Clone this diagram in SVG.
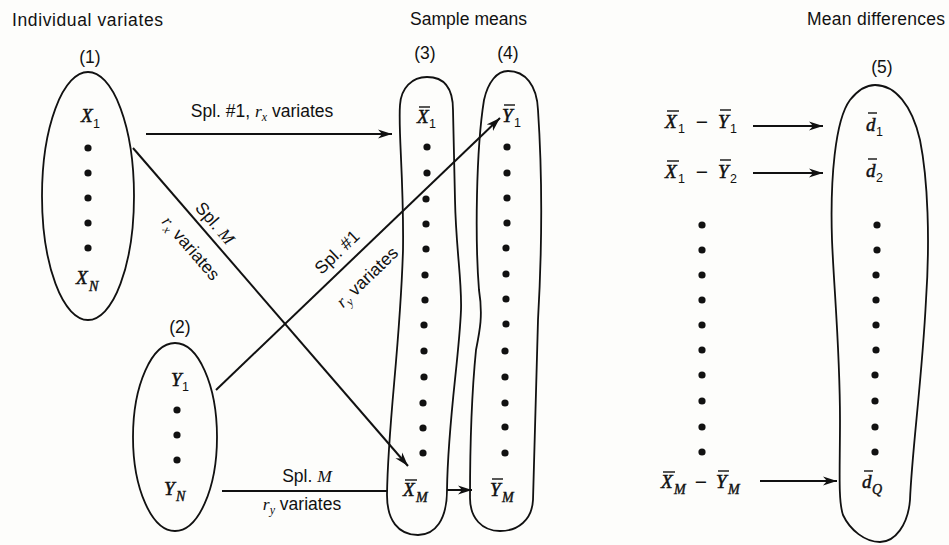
<svg xmlns="http://www.w3.org/2000/svg" width="949" height="545" viewBox="0 0 949 545">
<defs>
<style>
.h{font-family:"Liberation Sans",Arial,sans-serif;font-size:17.5px;fill:#111}
.mn{font-family:"Liberation Sans",Arial,sans-serif;font-size:21px;fill:#111}
.m{font-family:"Liberation Serif","Times New Roman",serif;font-style:italic;font-size:19px;fill:#111;stroke:#111;stroke-width:0.5}
.mi{font-family:"Liberation Serif","Times New Roman",serif;font-style:italic;font-size:14px;fill:#111;stroke:#111;stroke-width:0.4}
.s{font-family:"Liberation Sans",Arial,sans-serif;font-size:12.5px;fill:#111}
.it{font-family:"Liberation Serif","Times New Roman",serif;font-style:italic}
.bar{stroke:#111;stroke-width:1.4}
.ln{stroke:#111;stroke-width:2;fill:none}
.sh{stroke:#111;stroke-width:1.8;fill:none}
.dot{fill:#111}
</style>
<marker id="ah" markerWidth="16" markerHeight="10" refX="14" refY="5" orient="auto" markerUnits="userSpaceOnUse"><path d="M0,0.5 L14,5 L0,9.5 L4,5 Z" fill="#111"/></marker>
</defs>
<rect width="949" height="545" fill="#fdfdfb"/>

<g id="headers">
<text class="h" x="12" y="26" textLength="151" lengthAdjust="spacing">Individual variates</text>
<text class="h" x="410" y="25" textLength="117" lengthAdjust="spacing">Sample means</text>
<text class="h" x="807" y="25" textLength="138" lengthAdjust="spacing">Mean differences</text>
</g>

<g id="node1">
<text class="h" x="90" y="63" text-anchor="middle">(1)</text>
<ellipse class="sh" cx="88" cy="196" rx="46" ry="124"/>
<text class="m" x="81" y="122">X</text><text class="s" x="93" y="128">1</text>
<circle class="dot" cx="88" cy="148" r="3.6"/><circle class="dot" cx="88" cy="173" r="3.6"/><circle class="dot" cx="88" cy="198" r="3.6"/><circle class="dot" cx="88" cy="223" r="3.6"/><circle class="dot" cx="88" cy="248" r="3.6"/>
<text class="m" x="76" y="284">X</text><text class="mi" x="89" y="291">N</text>
</g>

<g id="node2">
<text class="h" x="180" y="333" text-anchor="middle">(2)</text>
<ellipse class="sh" cx="175" cy="437" rx="42" ry="94"/>
<text class="m" x="171" y="386">Y</text><text class="s" x="182" y="391">1</text>
<circle class="dot" cx="177" cy="410" r="3.6"/><circle class="dot" cx="177" cy="435" r="3.6"/><circle class="dot" cx="177" cy="460" r="3.6"/>
<text class="m" x="164" y="495">Y</text><text class="mi" x="176" y="501">N</text>
</g>

<g id="node3">
<text class="h" x="425" y="59" text-anchor="middle">(3)</text>
<path class="sh" d="M427,77 C445,77 453,88 453,110 L455,200 C456,250 462,280 461,310 C459,360 448,420 447,490 C447,520 435,535 418,535 C398,535 387,520 387,495 C388,420 400,350 403,250 C404,180 398,130 400,105 C401,88 412,77 427,77 Z"/>
<text class="m" x="417" y="123">X</text><line class="bar" x1="419" y1="107" x2="430" y2="107"/><text class="s" x="429" y="128">1</text>
<circle class="dot" cx="427" cy="147" r="3.6"/><circle class="dot" cx="427" cy="173" r="3.6"/><circle class="dot" cx="426" cy="199" r="3.6"/><circle class="dot" cx="426" cy="224" r="3.6"/><circle class="dot" cx="426" cy="249" r="3.6"/><circle class="dot" cx="425" cy="275" r="3.6"/><circle class="dot" cx="425" cy="300" r="3.6"/><circle class="dot" cx="424" cy="325" r="3.6"/><circle class="dot" cx="424" cy="351" r="3.6"/><circle class="dot" cx="424" cy="377" r="3.6"/><circle class="dot" cx="423" cy="403" r="3.6"/><circle class="dot" cx="423" cy="428" r="3.6"/><circle class="dot" cx="423" cy="453" r="3.6"/>
<text class="m" x="403" y="496">X</text><line class="bar" x1="405" y1="480" x2="417" y2="480"/><text class="mi" x="416" y="502">M</text>
</g>

<g id="node4">
<text class="h" x="508" y="59" text-anchor="middle">(4)</text>
<path class="sh" d="M508,71 C525,71 537,85 538,110 C542,170 542,250 538,320 C536,400 534,450 533,500 C532,520 518,531 500,531 C482,531 470,518 470,498 C470,440 473,380 476,350 C480,330 483,315 479,290 C475,240 476,150 484,100 C488,82 497,71 508,71 Z"/>
<text class="m" x="502" y="122">Y</text><line class="bar" x1="504" y1="105" x2="515" y2="105"/><text class="s" x="514" y="127">1</text>
<circle class="dot" cx="507" cy="147" r="3.6"/><circle class="dot" cx="507" cy="173" r="3.6"/><circle class="dot" cx="507" cy="198" r="3.6"/><circle class="dot" cx="507" cy="223" r="3.6"/><circle class="dot" cx="506" cy="248" r="3.6"/><circle class="dot" cx="506" cy="274" r="3.6"/><circle class="dot" cx="506" cy="299" r="3.6"/><circle class="dot" cx="506" cy="324" r="3.6"/><circle class="dot" cx="505" cy="351" r="3.6"/><circle class="dot" cx="505" cy="377" r="3.6"/><circle class="dot" cx="505" cy="403" r="3.6"/><circle class="dot" cx="505" cy="427" r="3.6"/><circle class="dot" cx="505" cy="453" r="3.6"/>
<text class="m" x="490" y="496">Y</text><line class="bar" x1="492" y1="479" x2="503" y2="479"/><text class="mi" x="502" y="502">M</text>
</g>

<g id="differences">
<text class="m" x="665" y="128">X</text><line class="bar" x1="667" y1="111" x2="679" y2="111"/><text class="s" x="678" y="133">1</text>
<text class="mn" x="702" y="129" text-anchor="middle">−</text>
<text class="m" x="718" y="128">Y</text><line class="bar" x1="720" y1="110" x2="731" y2="110"/><text class="s" x="730" y="133">1</text>
<text class="m" x="665" y="178">X</text><line class="bar" x1="667" y1="161" x2="679" y2="161"/><text class="s" x="678" y="183">1</text>
<text class="mn" x="702" y="179" text-anchor="middle">−</text>
<text class="m" x="718" y="178">Y</text><line class="bar" x1="720" y1="160" x2="731" y2="160"/><text class="s" x="730" y="183">2</text>
<circle class="dot" cx="702" cy="225" r="3.6"/><circle class="dot" cx="702" cy="250" r="3.6"/><circle class="dot" cx="702" cy="275" r="3.6"/><circle class="dot" cx="702" cy="300" r="3.6"/><circle class="dot" cx="702" cy="325" r="3.6"/><circle class="dot" cx="702" cy="350" r="3.6"/><circle class="dot" cx="702" cy="375" r="3.6"/><circle class="dot" cx="702" cy="401" r="3.6"/><circle class="dot" cx="702" cy="427" r="3.6"/><circle class="dot" cx="702" cy="452" r="3.6"/>
<text class="m" x="661" y="488">X</text><line class="bar" x1="663" y1="472" x2="675" y2="472"/><text class="mi" x="674" y="494">M</text>
<text class="mn" x="701" y="489" text-anchor="middle">−</text>
<text class="m" x="716" y="488">Y</text><line class="bar" x1="718" y1="471" x2="729" y2="471"/><text class="mi" x="728" y="494">M</text>
</g>

<g id="node5">
<text class="h" x="882" y="73" text-anchor="middle">(5)</text>
<path class="sh" d="M875,85 C895,85 912,105 920,140 C928,180 930,240 926,300 C922,380 912,450 910,500 C908,525 895,542 880,542 C865,542 850,530 843,515 C838,500 840,470 840,420 C840,350 834,290 832,240 C830,180 835,120 850,100 C858,90 866,85 875,85 Z"/>
<text class="m" x="866" y="131">d</text><line class="bar" x1="868" y1="113" x2="877" y2="113"/><text class="s" x="876" y="136">1</text>
<text class="m" x="866" y="177">d</text><line class="bar" x1="868" y1="159" x2="877" y2="159"/><text class="s" x="876" y="182">2</text>
<circle class="dot" cx="877" cy="225" r="3.6"/><circle class="dot" cx="877" cy="250" r="3.6"/><circle class="dot" cx="876" cy="275" r="3.6"/><circle class="dot" cx="876" cy="300" r="3.6"/><circle class="dot" cx="876" cy="325" r="3.6"/><circle class="dot" cx="876" cy="350" r="3.6"/><circle class="dot" cx="875" cy="375" r="3.6"/><circle class="dot" cx="875" cy="401" r="3.6"/><circle class="dot" cx="875" cy="427" r="3.6"/><circle class="dot" cx="875" cy="452" r="3.6"/>
<text class="m" x="862" y="488">d</text><line class="bar" x1="864" y1="471" x2="873" y2="471"/><text class="mi" x="872" y="494">Q</text>
</g>

<g id="connectors">
<path class="ln" d="M146,134 L392,134" marker-end="url(#ah)"/>
<path class="ln" d="M133,148 L408,466" marker-end="url(#ah)"/>
<path class="ln" d="M216,390 L500,118" marker-end="url(#ah)"/>
<path class="ln" d="M222,491 L387,491"/>
<path class="ln" d="M447,490 L472,490" marker-end="url(#ah)"/>
<path class="ln" d="M753,126 L823,126" marker-end="url(#ah)"/>
<path class="ln" d="M753,173 L823,173" marker-end="url(#ah)"/>
<path class="ln" d="M760,481 L837,481" marker-end="url(#ah)"/>
<text class="h" x="262" y="117" text-anchor="middle">Spl. #1, <tspan class="it">r</tspan><tspan class="it" font-size="12" dy="4">x</tspan><tspan dy="-4"> variates</tspan></text>
<text class="h" transform="translate(215,223) rotate(49.2)" x="0" y="6" text-anchor="middle">Spl. <tspan class="it">M</tspan></text>
<text class="h" transform="translate(191,248) rotate(49.2)" x="0" y="6" text-anchor="middle"><tspan class="it">r</tspan><tspan class="it" font-size="12" dy="4">x</tspan><tspan dy="-4"> variates</tspan></text>
<text class="h" transform="translate(337,252) rotate(-43.8)" x="0" y="6" text-anchor="middle">Spl. #1</text>
<text class="h" transform="translate(367,277) rotate(-43.8)" x="0" y="6" text-anchor="middle"><tspan class="it">r</tspan><tspan class="it" font-size="12" dy="4">y</tspan><tspan dy="-4"> variates</tspan></text>
<text class="h" x="307" y="482" text-anchor="middle">Spl. <tspan class="it">M</tspan></text>
<text class="h" x="302" y="510" text-anchor="middle"><tspan class="it">r</tspan><tspan class="it" font-size="12" dy="4">y</tspan><tspan dy="-4"> variates</tspan></text>
</g>
</svg>
